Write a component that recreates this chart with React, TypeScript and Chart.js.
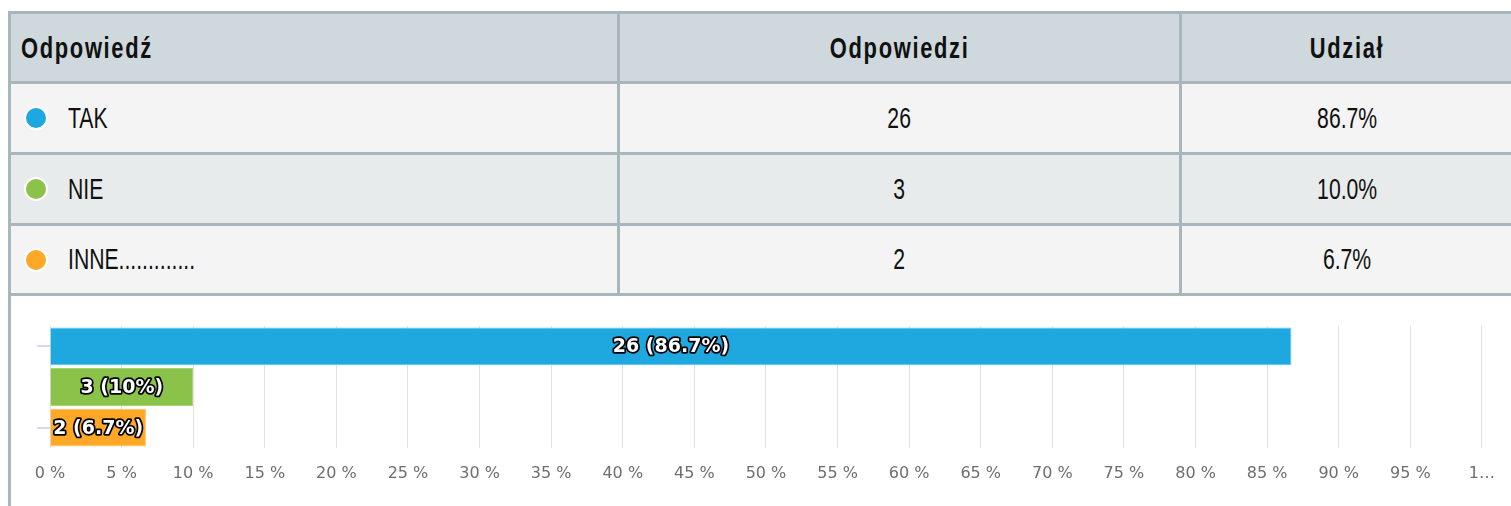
import React, { useEffect, useRef } from "react";
import { Chart, registerables } from "chart.js";

Chart.register(...registerables);

const headers = ["Odpowiedź", "Odpowiedzi", "Udział"];
const answers = ["TAK", "NIE", "INNE............."];
const counts = [26, 3, 2];
const shares = [86.7, 10.0, 6.7];
const colors = ["#1fa8df", "#8bc34a", "#ffa726"];
const borderColors = ["#5cc6f0", "#a6d46e", "#ffc163"];
const rowBgs = ["#f4f4f4", "#e8ebec", "#f4f4f4"];
const xTickLabels = [
  "0 %", "5 %", "10 %", "15 %", "20 %", "25 %", "30 %", "35 %", "40 %", "45 %",
  "50 %", "55 %", "60 %", "65 %", "70 %", "75 %", "80 %", "85 %", "90 %", "95 %", "1…",
];

const barLabels = counts.map((c, i) => `${c} (${shares[i]}%)`);

const BORDER = "3px solid #a9b7bc";
const TABLE_FONT = '"Liberation Sans", Arial, sans-serif';
const colW = [606, 562, 352];
const SCALE = 0.73;

if (typeof document !== "undefined") {
  document.documentElement.style.overflow = "hidden";
  document.body.style.overflow = "hidden";
}

function Txt({ children, origin }: { children: any; origin: string }) {
  return (
    <span
      style={{
        display: "inline-block",
        transform: `scaleX(${SCALE})`,
        transformOrigin: origin,
        whiteSpace: "nowrap",
      }}
    >
      {children}
    </span>
  );
}

function Cell({ i, children, header }: { i: number; children: any; header?: boolean }) {
  return (
    <div
      style={{
        boxSizing: "border-box",
        width: colW[i],
        flexShrink: 0,
        borderLeft: i === 0 ? "none" : BORDER,
        display: "flex",
        alignItems: "center",
        justifyContent: i === 0 ? "flex-start" : "center",
        paddingLeft: i === 0 ? (header ? 10 : 13) : 0,
        paddingRight: i === 2 ? 19 : 0,
        height: "100%",
      }}
    >
      {children}
    </div>
  );
}

export default function App() {
  const ref = useRef<HTMLCanvasElement>(null);

  useEffect(() => {
    const labelPlugin = {
      id: "barLabels",
      afterDatasetsDraw(chart: any) {
        const ctx = chart.ctx;
        const meta = chart.getDatasetMeta(0);
        ctx.save();
        ctx.font = 'bold 19px "DejaVu Sans"';
        ctx.textAlign = "center";
        ctx.textBaseline = "middle";
        ctx.lineJoin = "round";
        ctx.lineWidth = 3.5;
        ctx.strokeStyle = "#000";
        ctx.fillStyle = "#fff";
        meta.data.forEach((bar: any, i: number) => {
          const { x, y, base } = bar.getProps(["x", "y", "base"], true);
          const cx = (x + base) / 2;
          ctx.strokeText(barLabels[i], cx, y + 1);
          ctx.fillText(barLabels[i], cx, y + 1);
        });
        ctx.restore();
      },
    };

    const chart = new Chart(ref.current as HTMLCanvasElement, {
      type: "bar",
      data: {
        labels: answers,
        datasets: [
          {
            data: shares,
            backgroundColor: colors,
            borderColor: borderColors,
            borderWidth: 1,
            barPercentage: 0.93,
            categoryPercentage: 1,
          },
        ],
      },
      options: {
        indexAxis: "y",
        animation: false,
        responsive: true,
        maintainAspectRatio: false,
        layout: { padding: { top: 30, right: 25, bottom: 0, left: 0 } },
        plugins: { legend: { display: false }, tooltip: { enabled: false } },
        scales: {
          x: {
            min: 0,
            max: 100,
            ticks: {
              stepSize: 5,
              autoSkip: false,
              maxRotation: 0,
              padding: 16,
              color: "#6e6e6e",
              font: { size: 16, family: "DejaVu Sans" },
              callback: (_v: any, i: number) => xTickLabels[i],
            },
            grid: { color: "#e2e2e2", lineWidth: 1, drawTicks: false },
            border: { display: false },
            afterFit: (s: any) => {
              s.height = 58;
            },
          },
          y: {
            ticks: { callback: () => "" },
            grid: {
              offset: false,
              drawOnChartArea: false,
              drawTicks: true,
              tickLength: 13,
              lineWidth: 2,
              color: (c: any) => (c.index === 1 ? "rgba(0,0,0,0)" : "#d3daf0"),
            },
            border: { display: false },
            afterFit: (s: any) => {
              s.width = 39;
            },
          },
        },
      } as any,
      plugins: [labelPlugin],
    });
    return () => chart.destroy();
  }, []);

  const rowHeights = [68, 68, 67];

  return (
    <div
      style={{
        position: "fixed",
        left: 8,
        top: 11,
        width: 1503,
        height: 495,
        overflow: "hidden",
        background: "#fff",
      }}
    >
      <div style={{ width: 1520, borderLeft: BORDER, borderTop: BORDER, fontFamily: TABLE_FONT, color: "#111" }}>
        <div
          style={{
            display: "flex",
            height: 67,
            background: "#cfd8dc",
            borderBottom: BORDER,
            fontWeight: "bold",
            fontSize: 30,
            letterSpacing: "2.3px",
          }}
        >
          {headers.map((h, i) => (
            <Cell key={h} i={i} header>
              <Txt origin={i === 0 ? "left center" : "center center"}>{h}</Txt>
            </Cell>
          ))}
        </div>
        {answers.map((a, r) => (
          <div
            key={a}
            style={{
              display: "flex",
              height: rowHeights[r],
              background: rowBgs[r],
              borderBottom: BORDER,
              fontSize: 29,
            }}
          >
            <Cell i={0}>
              <span
                style={{
                  display: "inline-block",
                  width: 20,
                  height: 20,
                  borderRadius: "50%",
                  background: colors[r],
                  border: "2px solid #fff",
                  marginRight: 20,
                  flexShrink: 0,
                }}
              />
              <Txt origin="left center">{a}</Txt>
            </Cell>
            <Cell i={1}>
              <Txt origin="center center">{counts[r]}</Txt>
            </Cell>
            <Cell i={2}>
              <Txt origin="center center">{shares[r].toFixed(1)}%</Txt>
            </Cell>
          </div>
        ))}
        <div style={{ position: "relative", width: 1500, height: 210, background: "#fff" }}>
          <canvas ref={ref} />
        </div>
      </div>
    </div>
  );
}
